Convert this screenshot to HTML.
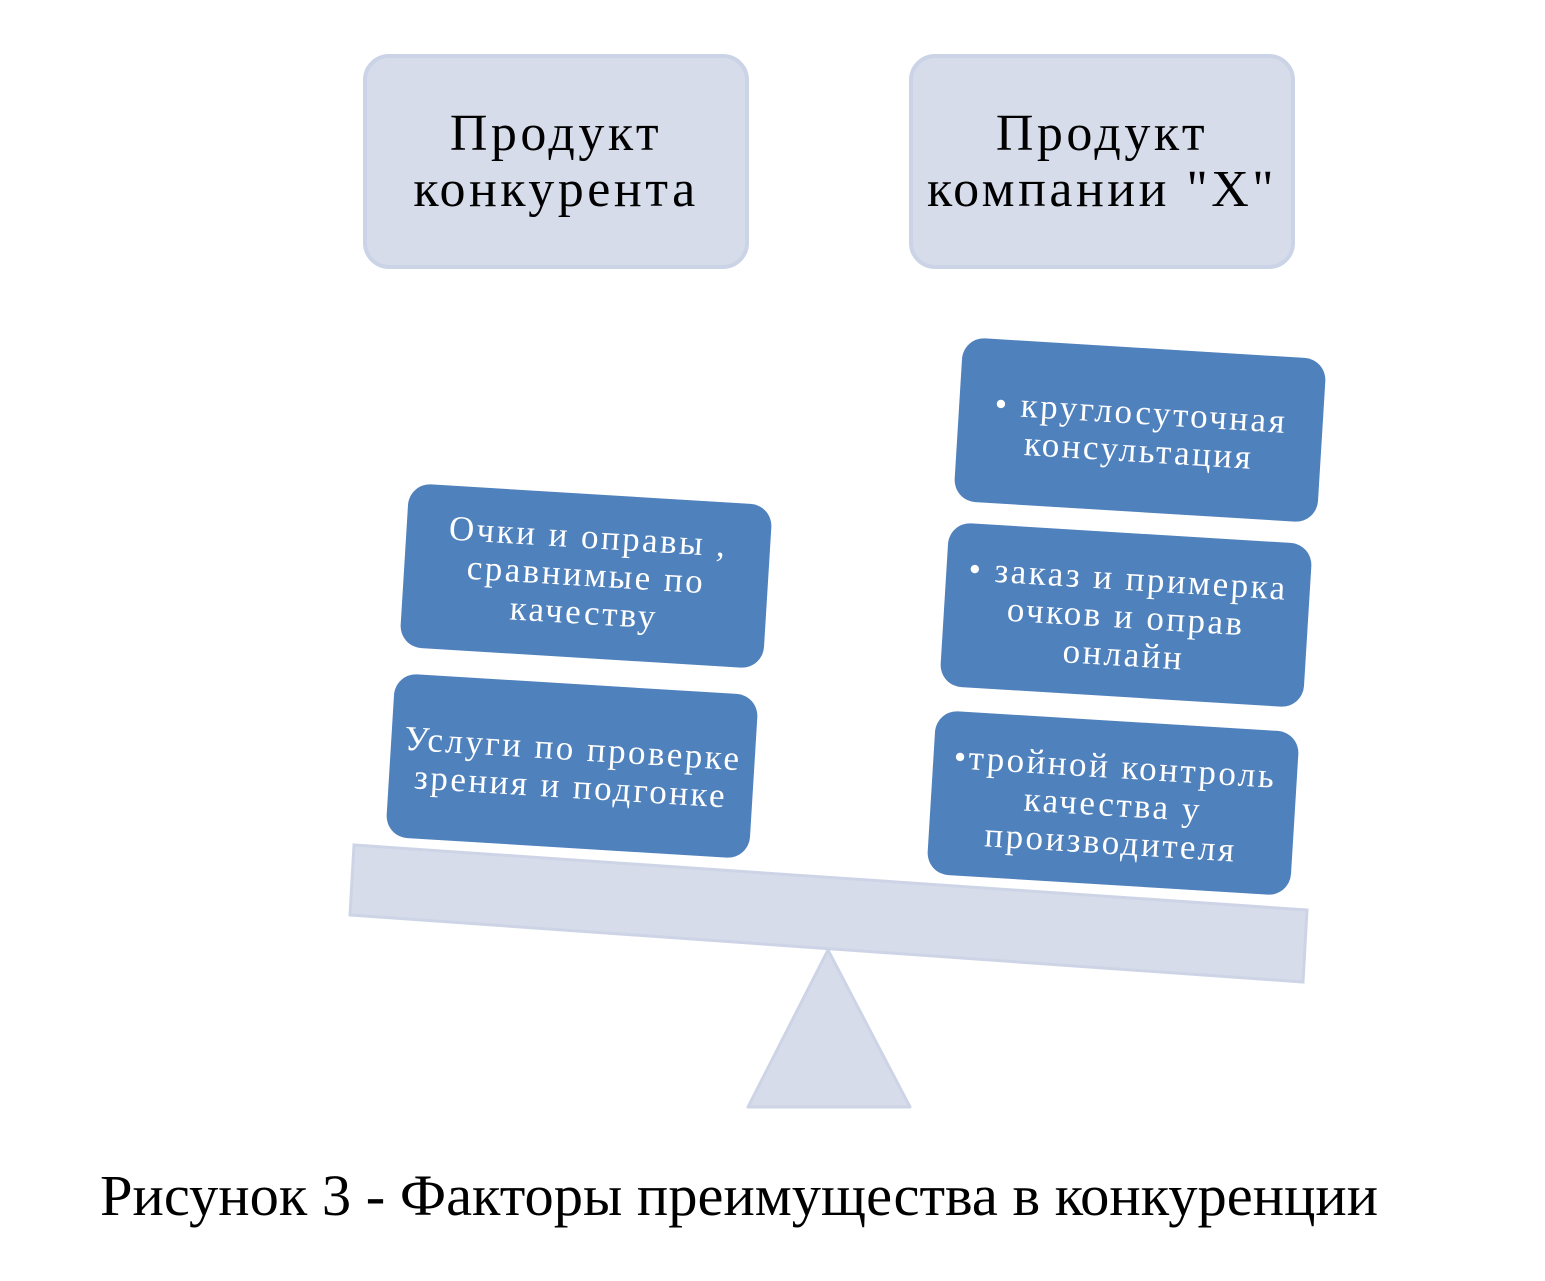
<!DOCTYPE html>
<html><head><meta charset="utf-8">
<style>
html,body{margin:0;padding:0;background:#fff;}
svg{display:block;}
.top{font-family:"Liberation Serif","DejaVu Serif",serif;font-size:52px;fill:#000;letter-spacing:3.5px;}
.bl{font-family:"Liberation Serif","DejaVu Serif",serif;font-size:35px;fill:#fff;letter-spacing:2.5px;}
.cap{font-family:"Liberation Serif",serif;font-size:58.5px;fill:#000;}
</style></head>
<body>
<svg width="1545" height="1281" viewBox="0 0 1545 1281" xmlns="http://www.w3.org/2000/svg">
<rect x="0" y="0" width="1545" height="1281" fill="#fff"/>
<rect x="365" y="56" width="382" height="211" rx="24" fill="#d6dcea" stroke="#cbd3e6" stroke-width="4"/>
<text class="top" x="556" y="150" text-anchor="middle">Продукт</text>
<text class="top" x="556" y="206" text-anchor="middle">конкурента</text>
<rect x="911" y="56" width="382" height="211" rx="24" fill="#d6dcea" stroke="#cbd3e6" stroke-width="4"/>
<text class="top" x="1102" y="150" text-anchor="middle">Продукт</text>
<text class="top" x="1102" y="206" text-anchor="middle">компании "X"</text>

<polygon points="354,845 1307,910 1303,982 350,915" fill="#d6dcea" stroke="#cdd4e6" stroke-width="3"/>
<polygon points="828,950 910,1107 748,1107" fill="#d6dcea" stroke="#cdd4e6" stroke-width="3" stroke-linejoin="round"/>

<g transform="rotate(3.5 586 576)">
<rect x="404" y="494" width="364" height="164" rx="22" fill="#4f81bd"/>
<text class="bl" x="586" y="548" text-anchor="middle">Очки и оправы ,</text>
<text class="bl" x="586" y="586" text-anchor="middle">сравнимые по</text>
<text class="bl" x="586" y="624" text-anchor="middle">качеству</text>
</g>
<g transform="rotate(3.5 572 766)">
<rect x="390" y="684" width="364" height="164" rx="22" fill="#4f81bd"/>
<text class="bl" x="572" y="760" text-anchor="middle">Услуги по проверке</text>
<text class="bl" x="572" y="798" text-anchor="middle">зрения и подгонке</text>
</g>

<g transform="rotate(3.5 1140 430)">
<rect x="958" y="348" width="364" height="164" rx="22" fill="#4f81bd"/>
<text class="bl" x="1140" y="424" text-anchor="middle">• круглосуточная</text>
<text class="bl" x="1140" y="462" text-anchor="middle">консультация</text>
</g>
<g transform="rotate(3.5 1126 615)">
<rect x="944" y="533" width="364" height="164" rx="22" fill="#4f81bd"/>
<text class="bl" x="1126" y="590" text-anchor="middle">• заказ и примерка</text>
<text class="bl" x="1126" y="628" text-anchor="middle">очков и оправ</text>
<text class="bl" x="1126" y="666" text-anchor="middle">онлайн</text>
</g>
<g transform="rotate(3.5 1113 803)">
<rect x="931" y="721" width="364" height="164" rx="22" fill="#4f81bd"/>
<text class="bl" x="1113" y="778" text-anchor="middle">•тройной контроль</text>
<text class="bl" x="1113" y="816" text-anchor="middle">качества у</text>
<text class="bl" x="1113" y="854" text-anchor="middle">производителя</text>
</g>

<text class="cap" x="100" y="1215">Рисунок 3 - Факторы преимущества в конкуренции</text>
</svg>
</body></html>
